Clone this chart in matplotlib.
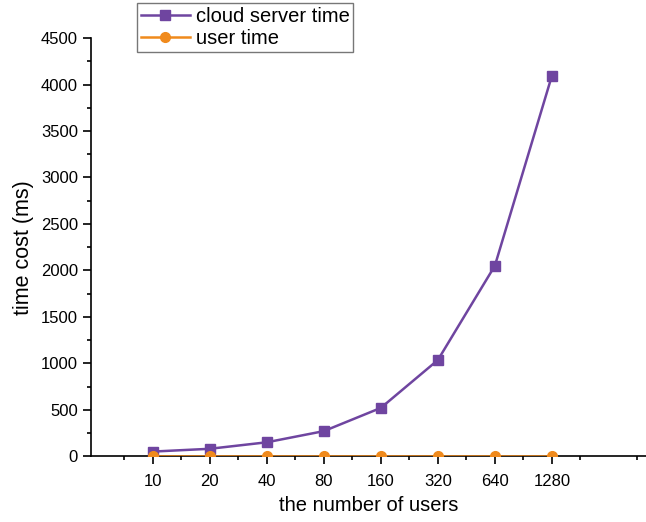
import numpy as np
import matplotlib.pyplot as plt
from matplotlib.ticker import MultipleLocator

plt.rcParams['font.family'] = ['Liberation Sans', 'DejaVu Sans']

users = ['10', '20', '40', '80', '160', '320', '640', '1280']
cloud_time = [50, 80, 150, 270, 520, 1035, 2050, 4095]
user_time = [5, 5, 5, 5, 5, 5, 5, 5]

x = np.arange(len(users))

fig = plt.figure(figsize=(6.46, 5.22), dpi=100)
ax = fig.add_axes([0.141, 0.126, 0.859, 0.801])

ax.plot(x, cloud_time, color='#6f45a0', marker='s', markersize=7, lw=1.8,
        label='cloud server time', zorder=3)
ax.plot(x, user_time, color='#f08a1c', marker='o', markersize=7, lw=1.8,
        label='user time', zorder=4)

ax.set_xlim(-1.08, 8.65)
ax.set_ylim(0, 4500)
ax.set_xticks(x)
ax.set_xticklabels(users)
ax.set_xticks(np.arange(-0.5, 9, 1), minor=True)
ax.yaxis.set_major_locator(MultipleLocator(500))
ax.yaxis.set_minor_locator(MultipleLocator(250))
ax.tick_params(axis='both', which='major', labelsize=12, length=6, width=1.2)
ax.tick_params(axis='both', which='minor', length=3, width=1.2)
ax.tick_params(axis='x', pad=7)

for s in ['top', 'right']:
    ax.spines[s].set_visible(False)
for s in ['left', 'bottom']:
    ax.spines[s].set_linewidth(1.2)

ax.set_xlabel('the number of users', fontsize=14.5, labelpad=5)
ax.set_ylabel('time cost (ms)', fontsize=15.5, labelpad=5)

leg = ax.legend(loc='upper left', bbox_to_anchor=(0.083, 1.084), fontsize=14.5,
                frameon=True, fancybox=False, edgecolor='#555555',
                handlelength=2.4, borderpad=0.2, labelspacing=0.15,
                handletextpad=0.3, borderaxespad=0)
leg.get_frame().set_linewidth(1.0)

fig.savefig('out.png', dpi=100)
